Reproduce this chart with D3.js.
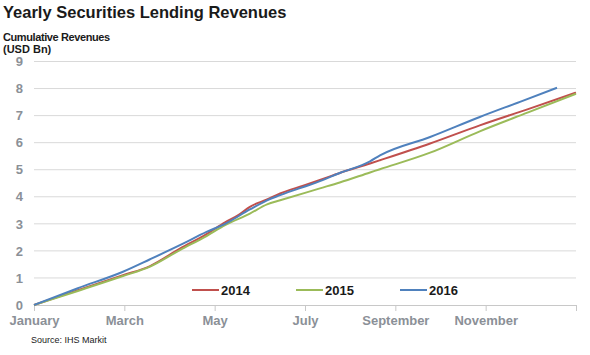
<!DOCTYPE html>
<html>
<head>
<meta charset="utf-8">
<script src="https://cdn.jsdelivr.net/npm/d3@7"></script>
<style>
  html, body { margin: 0; padding: 0; background: #fff; }
  svg { display: block; font-family: "Liberation Sans", Arial, sans-serif; }
</style>
</head>
<body>
<svg id="chart" width="590" height="355"></svg>
<script>
// ---- Data (x = months elapsed since 1 January) ----
const monthTicks = [0, 2, 4, 6, 8, 10, 12];
const monthLabels = ["January", "March", "May", "July", "September", "November", ""];
const yTicks = [0, 1, 2, 3, 4, 5, 6, 7, 8, 9];

const months2014 = [0, 0.97, 1.97, 2.57, 3.23, 3.82, 4.23, 4.55, 4.78, 5.16, 5.45, 5.96, 6.33, 6.77, 7.44, 7.66, 8.77, 9.87, 10.94, 12];
const values2014 = [0, 0.55, 1.10, 1.44, 2.08, 2.62, 3.05, 3.35, 3.63, 3.90, 4.12, 4.41, 4.62, 4.88, 5.23, 5.35, 5.97, 6.64, 7.24, 7.85];

const months2015 = [0, 0.97, 1.97, 2.57, 3.23, 3.82, 4.23, 4.78, 5.16, 5.45, 6.33, 6.77, 7.44, 7.66, 8.77, 9.87, 10.94, 12];
const values2015 = [0, 0.52, 1.07, 1.42, 2.03, 2.55, 2.95, 3.38, 3.72, 3.87, 4.31, 4.53, 4.90, 5.02, 5.63, 6.42, 7.12, 7.81];

const months2016 = [0, 0.97, 1.97, 2.57, 3.23, 3.82, 4.23, 4.78, 5.16, 5.45, 6.33, 6.77, 7.44, 7.66, 8.77, 9.87, 10.76, 11.58];
const values2016 = [0, 0.62, 1.23, 1.69, 2.21, 2.70, 3.00, 3.53, 3.87, 4.06, 4.58, 4.88, 5.31, 5.53, 6.21, 6.95, 7.51, 8.03];

const seriesNames = ["2014", "2015", "2016"];
const seriesColors = ["#c0504d", "#9bbb59", "#4f81bd"];

const series = [
  { name: seriesNames[0], color: seriesColors[0], pts: months2014.map((m, i) => [m, values2014[i]]) },
  { name: seriesNames[1], color: seriesColors[1], pts: months2015.map((m, i) => [m, values2015[i]]) },
  { name: seriesNames[2], color: seriesColors[2], pts: months2016.map((m, i) => [m, values2016[i]]) }
];

// ---- Layout ----
const svg = d3.select("#chart");
const plotLeft = 34, plotRight = 576, plotTop = 61.5, plotBottom = 305;

const x = d3.scaleLinear().domain([0, 12]).range([plotLeft, plotRight]);
const y = d3.scaleLinear().domain([0, 9]).range([plotBottom, plotTop]);

// Title
svg.append("text").attr("x", 3).attr("y", 18)
  .attr("font-size", 16.5).attr("font-weight", "bold").attr("fill", "#1a1a1a")
  .text("Yearly Securities Lending Revenues");
svg.append("text").attr("x", 3).attr("y", 41)
  .attr("font-size", 11).attr("font-weight", "bold").attr("fill", "#1a1a1a")
  .attr("letter-spacing", -0.4)
  .text("Cumulative Revenues");
svg.append("text").attr("x", 3).attr("y", 53)
  .attr("font-size", 11).attr("font-weight", "bold").attr("fill", "#1a1a1a")
  .text("(USD Bn)");

// Gridlines
svg.append("g").selectAll("line").data(yTicks.filter(d => d > 0)).join("line")
  .attr("x1", plotLeft).attr("x2", plotRight)
  .attr("y1", d => y(d)).attr("y2", d => y(d))
  .attr("stroke", "#d9d9d9").attr("stroke-width", 1);

// Y axis labels
const yAxis = svg.append("g").attr("transform", `translate(${plotLeft},0)`)
  .call(d3.axisLeft(y).tickValues(yTicks).tickSize(0).tickPadding(11).tickFormat(d3.format("d")));
yAxis.select(".domain").remove();
yAxis.selectAll("text").attr("font-size", 13).attr("font-weight", "bold")
  .attr("fill", "#8b9097").attr("font-family", "Liberation Sans, Arial, sans-serif");

// X axis
const xAxis = svg.append("g").attr("transform", `translate(0,${plotBottom})`)
  .call(d3.axisBottom(x).tickValues(monthTicks).tickSize(6).tickPadding(5)
    .tickFormat((d, i) => monthLabels[i]));
xAxis.select(".domain").attr("stroke", "#c8c8c8").attr("d", `M${plotLeft},0.5H${plotRight}`);
xAxis.selectAll(".tick line").attr("stroke", "#c8c8c8");
xAxis.selectAll("text").attr("font-size", 13).attr("font-weight", "bold")
  .attr("fill", "#8b9097").attr("font-family", "Liberation Sans, Arial, sans-serif");

// Lines
const line = d3.line().x(d => x(d[0])).y(d => y(d[1])).curve(d3.curveMonotoneX);
svg.append("g").selectAll("path").data(series).join("path")
  .attr("d", d => line(d.pts))
  .attr("fill", "none").attr("stroke", d => d.color).attr("stroke-width", 2);

// Legend
const legendX = [192, 296, 400];
const lg = svg.append("g").selectAll("g").data(series).join("g")
  .attr("transform", (d, i) => `translate(${legendX[i]},290)`);
lg.append("line").attr("x1", 0).attr("x2", 27).attr("y1", 0).attr("y2", 0)
  .attr("stroke", d => d.color).attr("stroke-width", 2);
lg.append("text").attr("x", 29).attr("y", 5)
  .attr("font-size", 13).attr("font-weight", "bold").attr("fill", "#1a1a1a")
  .text(d => d.name);

// Source
svg.append("text").attr("x", 31).attr("y", 343)
  .attr("font-size", 9).attr("fill", "#1a1a1a")
  .text("Source: IHS Markit");
</script>
</body>
</html>
